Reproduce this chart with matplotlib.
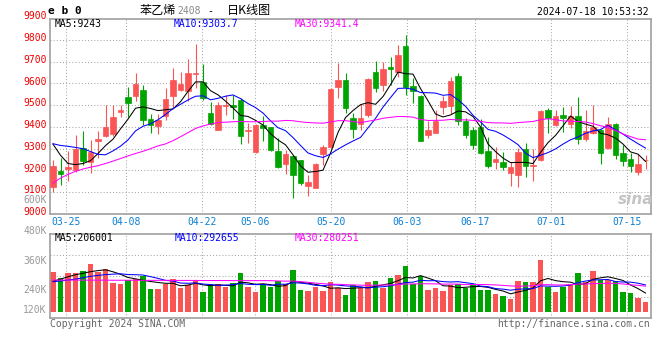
from __future__ import annotations

import matplotlib

matplotlib.use("Agg")
import matplotlib.pyplot as plt
import matplotlib.transforms as mtransforms
import numpy as np
import pandas as pd

W, H = 660, 360

HOLIDAYS = ["2024-04-04", "2024-04-05", "2024-05-01", "2024-05-02", "2024-05-03", "2024-06-10"]
DATES = [
    d.strftime("%m-%d")
    for d in pd.bdate_range("2024-03-21", "2024-07-18")
    if d.strftime("%Y-%m-%d") not in HOLIDAYS
]
TICK_LABELS = ["03-25", "04-08", "04-22", "05-06", "05-20", "06-03", "06-17", "07-01", "07-15"]

OPEN = [9123, 9197, 9205, 9200, 9303, 9238, 9334, 9358, 9366, 9469,
        9537, 9542, 9569, 9435, 9403, 9451, 9543, 9569, 9566, 9645,
        9608, 9465, 9385, 9497, 9500, 9523, 9383, 9285, 9411, 9400,
        9288, 9228, 9266, 9246, 9128, 9120, 9274, 9308, 9585, 9615,
        9443, 9415, 9454, 9651, 9595, 9674, 9651, 9772, 9588, 9541,
        9365, 9372, 9492, 9497, 9634, 9426, 9385, 9400, 9288, 9238,
        9238, 9188, 9180, 9300, 9220, 9246, 9480, 9408, 9454, 9415,
        9449, 9343, 9374, 9385, 9305, 9415, 9280, 9251, 9192, 9246]
HIGH = [9246, 9258, 9289, 9362, 9380, 9342, 9380, 9500, 9500, 9503,
        9585, 9646, 9592, 9458, 9458, 9580, 9669, 9651, 9711, 9780,
        9688, 9515, 9515, 9549, 9546, 9531, 9420, 9415, 9449, 9400,
        9349, 9292, 9270, 9248, 9177, 9235, 9315, 9577, 9692, 9646,
        9462, 9505, 9626, 9703, 9700, 9723, 9777, 9823, 9623, 9549,
        9426, 9480, 9541, 9631, 9646, 9441, 9400, 9435, 9354, 9308,
        9285, 9238, 9303, 9326, 9300, 9480, 9485, 9478, 9492, 9497,
        9538, 9477, 9503, 9392, 9446, 9420, 9318, 9282, 9274, 9272]
LOW = [9100, 9135, 9151, 9195, 9223, 9188, 9257, 9354, 9360, 9446,
       9446, 9518, 9408, 9374, 9369, 9431, 9492, 9565, 9518, 9577,
       9523, 9408, 9385, 9454, 9435, 9323, 9328, 9281, 9334, 9288,
       9211, 9185, 9072, 9135, 9085, 9118, 9223, 9305, 9531, 9462,
       9351, 9385, 9446, 9562, 9565, 9592, 9631, 9549, 9511, 9335,
       9349, 9372, 9458, 9458, 9411, 9351, 9300, 9274, 9211, 9205,
       9200, 9128, 9123, 9169, 9151, 9243, 9374, 9405, 9377, 9395,
       9323, 9334, 9366, 9228, 9297, 9251, 9220, 9192, 9181, 9205]
CLOSE = [9220, 9182, 9218, 9297, 9243, 9285, 9346, 9400, 9445, 9480,
         9508, 9597, 9431, 9408, 9431, 9528, 9615, 9597, 9646, 9648,
         9531, 9412, 9500, 9503, 9492, 9358, 9388, 9411, 9395, 9292,
         9215, 9277, 9181, 9141, 9146, 9231, 9308, 9574, 9615, 9488,
         9392, 9443, 9620, 9577, 9666, 9665, 9731, 9585, 9566, 9335,
         9385, 9426, 9518, 9612, 9426, 9365, 9318, 9280, 9220, 9251,
         9215, 9215, 9285, 9220, 9223, 9472, 9441, 9449, 9441, 9449,
         9346, 9380, 9400, 9280, 9415, 9269, 9243, 9220, 9228, 9249]
VOLUME_K = [433, 369, 423, 423, 438, 519, 428, 465, 316, 305,
            351, 353, 387, 252, 252, 308, 353, 255, 289, 351,
            220, 308, 298, 270, 316, 423, 270, 220, 298, 270,
            334, 308, 451, 238, 227, 270, 227, 326, 262, 185,
            291, 255, 326, 334, 262, 369, 401, 497, 308, 387,
            238, 262, 227, 291, 298, 262, 298, 234, 244, 191,
            174, 148, 334, 326, 326, 554, 270, 220, 270, 298,
            423, 326, 447, 351, 351, 334, 220, 209, 156, 113]

# moving averages before enough bars exist on screen
MA5_HEAD = [9321, 9270, 9232, 9227]
MA10_HEAD = [9323, 9315, 9311, 9306, 9300, 9287, 9274, 9272, 9290]
MA30_HEAD = [9142, 9165, 9182, 9196, 9207, 9215, 9222, 9232, 9243, 9255,
             9267, 9278, 9288, 9300, 9313, 9322, 9337, 9355, 9374, 9393,
             9405, 9413, 9420, 9422, 9424, 9425, 9424, 9424, 9425]
VOL_MA5_HEAD = [332, 355, 380, 402]
VOL_MA10_HEAD = [327, 335, 345, 355, 370, 385, 395, 403, 408]
VOL_MA30_HEAD = [345, 345, 345, 345, 344, 344, 344, 344, 343, 343,
                 343, 343, 342, 342, 342, 342, 341, 341, 341, 341,
                 340, 340, 340, 340, 339, 339, 339, 339, 339]

PRICE_LABELS = list(range(9000, 10000, 100))
VOL_LABELS = [("600K", 200.3), ("480K", 231), ("360K", 261), ("240K", 290), ("120K", 310)]

RED = "#fa5555"
GREEN = "#00a400"
MONO = "DejaVu Sans Mono"


def moving_average(values, head, n):
    out = pd.Series(values, dtype=float).rolling(n).mean().to_numpy()
    out[: n - 1] = head
    return out


def fpos(x, y):
    return x / W, 1 - y / H


def main() -> None:
    assert len(DATES) == len(CLOSE) == 80
    x = np.arange(len(DATES))
    o = np.array(OPEN, dtype=float)
    c = np.array(CLOSE, dtype=float)
    vol = np.array(VOLUME_K, dtype=float) * 1000
    colors = np.where(c >= o, RED, GREEN)

    fig = plt.figure(figsize=(W / 100, H / 100), dpi=100)
    ax = fig.add_axes([50 / W, 1 - 214 / H, 601 / W, 195 / H])
    axv = fig.add_axes([50 / W, 1 - 318 / H, 601 / W, (318 - 234.3) / H])

    # Sina's date grid drifts a little from the candle slots
    tick_idx = [DATES.index(t) for t in TICK_LABELS]
    grid_x = [(50.54 + 7.58 * i - 53) / 7.5 for i in tick_idx]

    grid_kw = dict(color="#a8a8a8", linewidth=0.75, linestyle=(0, (1, 2)))
    for a in (ax, axv):
        a.set_xlim(-0.4, 79.73)
        a.set_xticks(grid_x)
        a.tick_params(axis="both", length=0)
        a.tick_params(axis="y", labelleft=False)
        a.grid(True, **grid_kw)
        a.set_axisbelow(True)
        for s in a.spines.values():
            s.set_color("#a0a0a0")
            s.set_linewidth(1.2)

    ax.set_ylim(9000, 9896)
    ax.set_yticks(range(9100, 9900, 100))
    ax.set_xticklabels(TICK_LABELS, fontfamily=MONO, fontsize=7, color="#0a7fd2")
    ax.tick_params(axis="x", pad=2.5)
    axv.set_xticklabels([])

    vlo, vhi = -59.8e3, 833.3e3
    axv.set_ylim(vlo, vhi)
    axv.set_yticks([vlo + f * (vhi - vlo) for f in (0.25, 0.5, 0.75)])

    # candles
    ax.vlines(x, LOW, HIGH, colors=colors, linewidth=0.8, zorder=2)
    ax.bar(x, np.abs(c - o), bottom=np.minimum(o, c), width=0.72,
           color=colors, edgecolor=colors, linewidth=0.5, zorder=3)
    ax.plot(x, moving_average(CLOSE, MA5_HEAD, 5), color="black", linewidth=0.75, zorder=4)
    ax.plot(x, moving_average(CLOSE, MA10_HEAD, 10), color="#0000ff", linewidth=0.75, zorder=4)
    ax.plot(x, moving_average(CLOSE, MA30_HEAD, 30), color="#ff00ff", linewidth=0.75, zorder=4)

    # volume
    axv.bar(x, vol, width=0.76, color=colors, linewidth=0, zorder=2)
    axv.plot(x, moving_average(vol, np.array(VOL_MA5_HEAD) * 1000, 5), color="black", linewidth=0.75, zorder=3)
    axv.plot(x, moving_average(vol, np.array(VOL_MA10_HEAD) * 1000, 10), color="#0000ff", linewidth=0.75, zorder=3)
    axv.plot(x, moving_average(vol, np.array(VOL_MA30_HEAD) * 1000, 30), color="#ff00ff", linewidth=0.75, zorder=3)

    # price labels
    lab_tr = mtransforms.offset_copy(ax.get_yaxis_transform(), fig=fig, x=-3.3, y=1.8, units="dots")
    for p in PRICE_LABELS:
        ax.text(0, p, str(p), transform=lab_tr, ha="right", va="center",
                fontfamily=MONO, fontsize=7, color="#f00000", clip_on=False)
    for s, yy in VOL_LABELS:
        fig.text(*fpos(46.7, yy), s, ha="right", va="center", fontfamily=MONO, fontsize=7, color="#999999")

    # legends
    txt = dict(fontfamily=MONO, fontsize=7, va="center", ha="left")
    fig.text(*fpos(55, 23.7), "MA5:9243", color="black", **txt)
    fig.text(*fpos(174, 23.7), "MA10:9303.7", color="#0000ff", **txt)
    fig.text(*fpos(295, 23.7), "MA30:9341.4", color="#ff00ff", **txt)
    fig.text(*fpos(55, 238.3), "MA5:206001", color="black", **txt)
    fig.text(*fpos(175, 238.3), "MA10:292655", color="#0000ff", **txt)
    fig.text(*fpos(295, 238.3), "MA30:280251", color="#ff00ff", **txt)

    # header
    cjk = ["Noto Sans CJK SC", "DejaVu Sans"]
    fig.text(*fpos(48, 11.5), "e b 0", fontfamily=MONO, fontsize=8, fontweight="bold", va="center")
    fig.text(*fpos(140, 10.5), "苯乙烯", family=cjk, fontsize=8.7, va="center")
    fig.text(*fpos(177, 11.5), "2408", fontfamily=MONO, fontsize=7, color="#888888", va="center")
    fig.text(*fpos(207, 11), "-", fontfamily=MONO, fontsize=7, va="center")
    fig.text(*fpos(226.5, 10.5), "日K线图", family=cjk, fontsize=8.7, va="center")
    fig.text(*fpos(649, 11.7), "2024-07-18 10:53:32", fontfamily=MONO, fontsize=7, ha="right", va="center")

    # footer and watermark
    fig.text(*fpos(50, 323.7), "Copyright 2024 SINA.COM", fontfamily=MONO, fontsize=7, color="#666666", va="center")
    fig.text(*fpos(649.5, 323.7), "http://finance.sina.com.cn", fontfamily=MONO, fontsize=7,
             color="#666666", ha="right", va="center")
    fig.text(*fpos(636, 199), "sina", fontsize=11, fontstyle="italic", fontweight="bold",
             color="#c4c4c4", ha="center", va="center")

    fig.savefig("out.png", dpi=100)
    plt.close(fig)


if __name__ == "__main__":
    main()
